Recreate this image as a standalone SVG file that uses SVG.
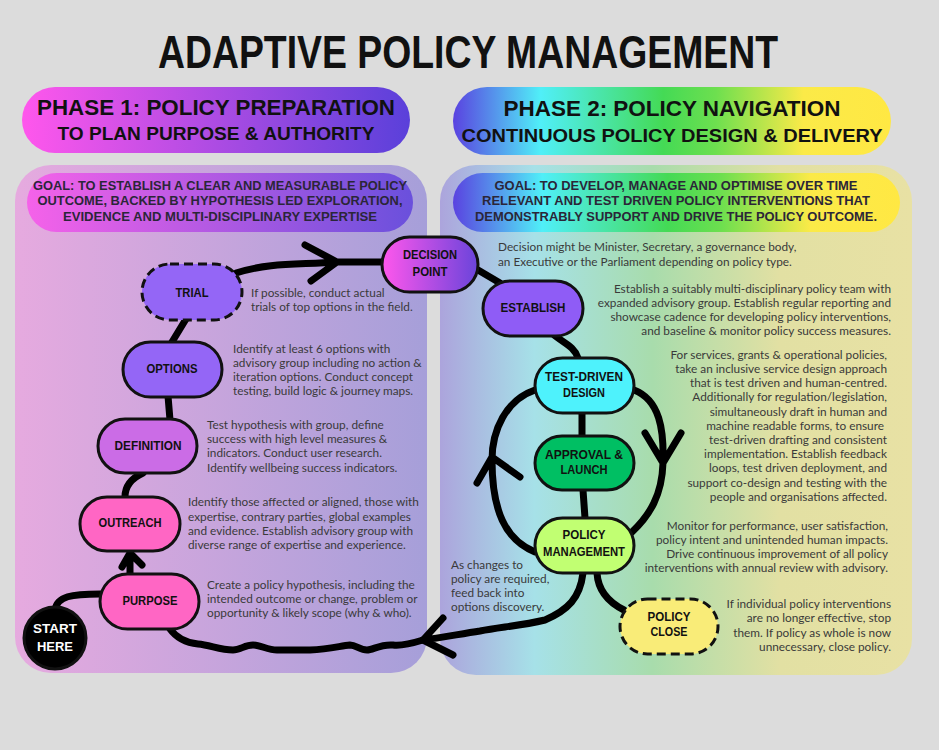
<svg xmlns="http://www.w3.org/2000/svg" width="939" height="750" viewBox="0 0 939 750">
<defs>
<linearGradient id="gP1" x1="0" y1="0" x2="1" y2="0"><stop offset="0" stop-color="#ff57ec"/><stop offset="1" stop-color="#5a40da"/></linearGradient>
<linearGradient id="gP1goal" x1="0" y1="0" x2="1" y2="0"><stop offset="0" stop-color="#f562e9"/><stop offset="1" stop-color="#6a50dc"/></linearGradient>
<linearGradient id="gP1panel" x1="0" y1="0" x2="1" y2="0"><stop offset="0" stop-color="#e6aadf"/><stop offset="1" stop-color="#a69fd9"/></linearGradient>
<linearGradient id="gP2" x1="0" y1="0" x2="1" y2="0"><stop offset="0" stop-color="#5a42e0"/><stop offset="0.2" stop-color="#50eff8"/><stop offset="0.48" stop-color="#44da55"/><stop offset="0.6" stop-color="#6ddf4f"/><stop offset="0.8" stop-color="#fbea48"/><stop offset="1" stop-color="#ffe843"/></linearGradient>
<linearGradient id="gP2panel" x1="0" y1="0" x2="1" y2="0"><stop offset="0" stop-color="#aca4dc"/><stop offset="0.2" stop-color="#a6e1e8"/><stop offset="0.45" stop-color="#a8dcac"/><stop offset="0.72" stop-color="#e2e0a3"/><stop offset="1" stop-color="#e8e1a4"/></linearGradient>
<linearGradient id="gDec" x1="0" y1="0" x2="1" y2="0"><stop offset="0" stop-color="#ff57ec"/><stop offset="1" stop-color="#6a44db"/></linearGradient>
</defs>
<style>
.hd{font-family:"Liberation Sans","DejaVu Sans",sans-serif;font-weight:bold;fill:#111;text-anchor:middle}
.goal{font-family:"Liberation Sans","DejaVu Sans",sans-serif;font-weight:bold;font-size:12.5px;fill:#2b2638;text-anchor:middle}
.node rect,.node circle{stroke:#111;stroke-width:3}
.dash{stroke-dasharray:9 5}
.lbl{font-family:"Liberation Sans","DejaVu Sans",sans-serif;font-weight:bold;font-size:12.5px;fill:#111;text-anchor:middle}
.desc{font-family:Lato,"Open Sans",sans-serif;font-size:11.8px;fill:#3a3a3a}
.r{text-anchor:end}
#connectors path{fill:none;stroke:#000;stroke-width:7;stroke-linecap:round;stroke-linejoin:round}
</style>
<rect x="0" y="0" width="939" height="750" fill="#dcdcdc"/>
<text class="hd" x="468" y="68" font-size="46" textLength="620" lengthAdjust="spacingAndGlyphs">ADAPTIVE POLICY MANAGEMENT</text>

<g id="phase1">
<rect x="22" y="87" width="388" height="66" rx="33" fill="url(#gP1)"/>
<text class="hd" x="216" y="115" font-size="22" textLength="358" lengthAdjust="spacingAndGlyphs">PHASE 1: POLICY PREPARATION</text>
<text class="hd" x="216" y="140" font-size="18" textLength="317" lengthAdjust="spacingAndGlyphs">TO PLAN PURPOSE &amp; AUTHORITY</text>
<rect x="15" y="165" width="412" height="508" rx="36" fill="url(#gP1panel)"/>
<rect x="27" y="173" width="386" height="59" rx="29.5" fill="url(#gP1goal)"/>
<text class="goal" x="220" y="190" textLength="374" lengthAdjust="spacingAndGlyphs">GOAL: TO ESTABLISH A CLEAR AND MEASURABLE POLICY</text>
<text class="goal" x="220" y="205" textLength="365" lengthAdjust="spacingAndGlyphs">OUTCOME, BACKED BY HYPOTHESIS LED EXPLORATION,</text>
<text class="goal" x="220" y="221" textLength="314" lengthAdjust="spacingAndGlyphs">EVIDENCE AND MULTI-DISCIPLINARY EXPERTISE</text>
</g>

<g id="phase2">
<rect x="453" y="87" width="438" height="68" rx="34" fill="url(#gP2)"/>
<text class="hd" x="672" y="116" font-size="22" textLength="337" lengthAdjust="spacingAndGlyphs">PHASE 2: POLICY NAVIGATION</text>
<text class="hd" x="672" y="142" font-size="18" textLength="421" lengthAdjust="spacingAndGlyphs">CONTINUOUS POLICY DESIGN &amp; DELIVERY</text>
<rect x="440" y="165" width="472" height="510" rx="36" fill="url(#gP2panel)"/>
<rect x="453" y="173" width="447" height="59" rx="29.5" fill="url(#gP2)"/>
<text class="goal" x="676" y="190" textLength="363" lengthAdjust="spacingAndGlyphs">GOAL: TO DEVELOP, MANAGE AND OPTIMISE OVER TIME</text>
<text class="goal" x="676" y="205" textLength="388" lengthAdjust="spacingAndGlyphs">RELEVANT AND TEST DRIVEN POLICY INTERVENTIONS THAT</text>
<text class="goal" x="676" y="221" textLength="402" lengthAdjust="spacingAndGlyphs">DEMONSTRABLY SUPPORT AND DRIVE THE POLICY OUTCOME.</text>
</g>

<g id="connectors">
<path d="M55 610 C57 596 72 594 100 594"/>
<path d="M130 574 L130 553 M122 567 L130 553 L142 565"/>
<path d="M125 497 C125 485 132 478 143 473"/>
<path d="M168 396 L170 420"/>
<path d="M172 342 L186 319"/>
<path d="M236 273 C270 262 300 265 337 262 L383 262 M305 245 L337 262 L311 281"/>
<path d="M478 270 L500 283" stroke-width="9"/>
<path d="M553 334 C563 343 574 346 578 358"/>
<path d="M582 412 L582 436"/>
<path d="M583 490 L585 518"/>
<path d="M634 390 C660 400 664 430 663 463 C662 495 650 515 632 532 M645 433 L663 463 L681 433"/>
<path d="M535 390 C506 400 492 430 492 460 C492 510 505 540 535 552 M477 483 L492 457 L520 477"/>
<path d="M597 573 C598 590 608 602 624 610"/>
<path d="M583 573 C580 598 568 610 545 620 C520 626 500 627 480 631 C460 634 440 638 423 640 M443 618 L423 640 L453 655"/>
<path d="M423 640 C410 644 400 646 393 645 C380 644 373 650 367 650 C360 650 356 645 350 645 C340 646 330 649 310 650 C295 650 285 650 277 650 C268 650 260 645 253 645 C245 645 240 650 233 650 C220 650 210 645 198 644 C188 643 178 640 170 629"/>
</g>

<g id="start" class="node"><circle cx="55" cy="638" r="31" fill="#000"/><text class="lbl" x="55" y="633" style="fill:#fff" textLength="44" lengthAdjust="spacingAndGlyphs">START</text><text class="lbl" x="55" y="651" style="fill:#fff" textLength="36" lengthAdjust="spacingAndGlyphs">HERE</text></g>
<g id="purpose" class="node"><rect x="100" y="574" width="99" height="55" rx="27.5" fill="#ff66c4"/><text class="lbl" x="150" y="605" textLength="55" lengthAdjust="spacingAndGlyphs">PURPOSE</text></g>
<g id="outreach" class="node"><rect x="80" y="497" width="100" height="54" rx="27" fill="#ff66c4"/><text class="lbl" x="130" y="527" textLength="63" lengthAdjust="spacingAndGlyphs">OUTREACH</text></g>
<g id="definition" class="node"><rect x="98" y="419" width="99" height="54" rx="27" fill="#cb6ce6"/><text class="lbl" x="148" y="450" textLength="67" lengthAdjust="spacingAndGlyphs">DEFINITION</text></g>
<g id="options" class="node"><rect x="123" y="342" width="99" height="55" rx="27.5" fill="#9466f6"/><text class="lbl" x="172" y="373" textLength="51" lengthAdjust="spacingAndGlyphs">OPTIONS</text></g>
<g id="trial" class="node"><rect class="dash" x="142" y="264" width="100" height="56" rx="28" fill="#9466f6"/><text class="lbl" x="192" y="297" textLength="33" lengthAdjust="spacingAndGlyphs">TRIAL</text></g>
<g id="decision" class="node"><rect x="382" y="237" width="96" height="55" rx="27.5" fill="url(#gDec)"/><text class="lbl" x="430" y="259" textLength="54" lengthAdjust="spacingAndGlyphs">DECISION</text><text class="lbl" x="430" y="276" textLength="35" lengthAdjust="spacingAndGlyphs">POINT</text></g>
<g id="establish" class="node"><rect x="483" y="281" width="100" height="55" rx="27.5" fill="#8f5cf6"/><text class="lbl" x="533" y="312" textLength="65" lengthAdjust="spacingAndGlyphs">ESTABLISH</text></g>
<g id="testdriven" class="node"><rect x="535" y="358" width="99" height="55" rx="27.5" fill="#4ef2fc"/><text class="lbl" x="584" y="381" textLength="78" lengthAdjust="spacingAndGlyphs">TEST-DRIVEN</text><text class="lbl" x="584" y="397" textLength="42" lengthAdjust="spacingAndGlyphs">DESIGN</text></g>
<g id="approval" class="node"><rect x="535" y="436" width="99" height="54" rx="27" fill="#00bf63"/><text class="lbl" x="584" y="459" textLength="78" lengthAdjust="spacingAndGlyphs">APPROVAL &amp;</text><text class="lbl" x="584" y="474" textLength="47" lengthAdjust="spacingAndGlyphs">LAUNCH</text></g>
<g id="management" class="node"><rect x="535" y="518" width="99" height="55" rx="27.5" fill="#c1ff72"/><text class="lbl" x="584" y="539" textLength="43" lengthAdjust="spacingAndGlyphs">POLICY</text><text class="lbl" x="584" y="556" textLength="82" lengthAdjust="spacingAndGlyphs">MANAGEMENT</text></g>
<g id="close" class="node"><rect class="dash" x="620" y="599" width="98" height="55" rx="27.5" fill="#f9ec78"/><text class="lbl" x="669" y="621" textLength="43" lengthAdjust="spacingAndGlyphs">POLICY</text><text class="lbl" x="669" y="636" textLength="37" lengthAdjust="spacingAndGlyphs">CLOSE</text></g>

<g id="descriptions">
<text class="desc"><tspan x="251" y="297">If possible, conduct actual</tspan><tspan x="251" y="311">trials of top options in the field.</tspan></text>
<text class="desc"><tspan x="233" y="353">Identify at least 6 options with</tspan><tspan x="233" y="367">advisory group including no action &amp;</tspan><tspan x="233" y="381">iteration options. Conduct concept</tspan><tspan x="233" y="395">testing, build logic &amp; journey maps.</tspan></text>
<text class="desc"><tspan x="207" y="429">Test hypothesis with group, define</tspan><tspan x="207" y="443">success with high level measures &amp;</tspan><tspan x="207" y="457">indicators. Conduct user research.</tspan><tspan x="207" y="472">Identify wellbeing success indicators.</tspan></text>
<text class="desc"><tspan x="188" y="506">Identify those affected or aligned, those with</tspan><tspan x="188" y="521">expertise, contrary parties, global examples</tspan><tspan x="188" y="535">and evidence. Establish advisory group with</tspan><tspan x="188" y="549">diverse range of expertise and  experience.</tspan></text>
<text class="desc"><tspan x="207" y="589">Create a policy hypothesis, including the</tspan><tspan x="207" y="603">intended outcome or change, problem or</tspan><tspan x="207" y="617">opportunity &amp; likely scope (why &amp; who).</tspan></text>
<text class="desc"><tspan x="498" y="251">Decision might be Minister, Secretary, a governance body,</tspan><tspan x="498" y="266">an Executive or the Parliament depending on policy type.</tspan></text>
<text class="desc r"><tspan x="891" y="293">Establish a suitably multi-disciplinary policy team with</tspan><tspan x="891" y="307">expanded advisory group. Establish regular reporting and</tspan><tspan x="891" y="321">showcase cadence for developing policy interventions,</tspan><tspan x="891" y="335">and baseline &amp; monitor policy success measures.</tspan></text>
<text class="desc r"><tspan x="887" y="359">For services, grants &amp; operational policies,</tspan><tspan x="887" y="373">take an inclusive service design approach</tspan><tspan x="887" y="387">that is test driven and human-centred.</tspan><tspan x="887" y="401">Additionally for regulation/legislation,</tspan><tspan x="887" y="416">simultaneously draft in human and</tspan><tspan x="887" y="430">machine readable forms, to ensure </tspan><tspan x="887" y="444">test-driven drafting and consistent</tspan><tspan x="887" y="458">implementation. Establish feedback</tspan><tspan x="887" y="472">loops, test driven deployment, and</tspan><tspan x="887" y="487">support co-design and testing with the</tspan><tspan x="887" y="501">people and organisations affected.</tspan></text>
<text class="desc r"><tspan x="888" y="530">Monitor for performance, user satisfaction,</tspan><tspan x="888" y="544">policy intent and unintended human impacts.</tspan><tspan x="888" y="558">Drive continuous improvement of all policy</tspan><tspan x="888" y="572">interventions with annual review with advisory.</tspan></text>
<text class="desc r"><tspan x="891" y="608">If individual policy interventions</tspan><tspan x="891" y="622">are no longer effective, stop</tspan><tspan x="891" y="637">them. If policy as whole is now</tspan><tspan x="891" y="651">unnecessary, close policy.</tspan></text>
<text class="desc"><tspan x="451" y="569">As changes to</tspan><tspan x="451" y="583">policy are required,</tspan><tspan x="451" y="597">feed back into</tspan><tspan x="451" y="611">options discovery.</tspan></text>
</g>
</svg>
